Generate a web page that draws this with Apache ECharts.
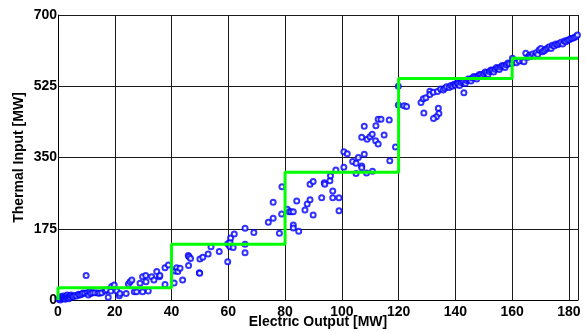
<!DOCTYPE html>
<html>
<head>
<meta charset="utf-8">
<script src="https://cdn.jsdelivr.net/npm/echarts@6/dist/echarts.min.js"></script>
<style>
  html, body { margin: 0; padding: 0; background: #fff; }
  #chart { width: 586px; height: 333px; }
</style>
</head>
<body>
<div id="chart"></div>
<script>
// Axis ticks
const xTicks = [0, 20, 40, 60, 80, 100, 120, 140, 160, 180];
const yTicks = [0, 175, 350, 525, 700];

// Piecewise-constant approximation: breakpoints (MW out) and levels (MW in)
const stepX = [0, 40, 80, 120, 160, 183.2];
const stepY = [30, 137, 314, 544, 594];

// Measured operating points [electric output MW, thermal input MW]
const measLow = [
  [0.3,2],[0.6,5],[0.8,0],[1.0,8],[1.2,3],[1.5,6],[1.8,10],[2.0,4],[2.2,7],[2.5,2],
  [2.8,9],[3.0,5],[3.2,12],[3.5,7],[3.8,3],[4.0,10],[4.3,6],[4.6,12],[5.0,9],[5.4,8],
  [6.0,11],[6.6,10],[7.2,14],[7.7,12],[8.3,14],[8.8,17],[9.5,16.5],[9.9,60],[10.3,18],
  [10.7,12],[11.2,20],[11.5,16],[12.2,18],[13,18],[14,17],[14.6,16.5],[15.4,18],
  [16.6,22],[17.1,25],[17.7,7],[18.6,22],[18.9,33],[19.8,37],[20.7,22],[21.6,10.5],
  [21.8,16],[24,16],[24.8,39],[25.4,45],[26,49],[26.9,20],[27.7,20],[28.9,41],
  [29.8,20],[29.8,57],[30.9,60],[31,45],[31.8,22],[33,57],[33.8,49],[34.8,70],
  [35.7,57],[35.9,60],[37.7,38],[37.7,79],[38.9,86]
];
const measMid = [
  [40.9,42],[41.2,71],[41.8,79],[42.2,70],[43,78],[43.9,49],[45.9,109],[46.2,106],
  [46.7,102],[46,85],[49.8,67],[49.9,66],[50,101],[51,105],[52.9,113],[53.9,131],
  [56.8,119],[59.8,94],[59.8,138],[60.3,135],[60.6,142],[60.6,131],[60.8,152],
  [61.7,129],[62.1,162],[65.9,176],[65.9,137],[65.9,116],[69,166],[74.1,191],
  [75.8,201],[75.8,240],[78,164],[78.8,211],[78.9,278],
  [80.8,223],[81.4,217],[82.1,217],[82.9,217],[82.9,184],[82.9,177],[84.1,243],
  [84.8,169],[87,221],[87.8,236],[88.8,246],[88.8,284],[89.9,291],[89.9,209],
  [92.9,251],[93.8,288],[94,284],[95.8,293],[96,305],[96.8,268],[96.8,251],
  [97.9,319],[99,251],[99,219],[100.7,364],[101.9,359],[100.7,326],[103.8,340],
  [105,336],[105.8,350],[107,329],[107,325],[107.9,358],[105,311],[108.7,312],
  [110.8,316],[107,400],[107.9,427],[108.9,395],[109.9,401],[110.7,407],[111.9,391],
  [112.8,383],[112,428],[112.8,444],[113.8,444],[114.9,405],[116.7,442],[116.9,342],
  [118.9,376],[119.9,479],[119.9,525]
];
const measHigh = [
  [121.9,477],[122.8,475],[127.9,485],[128.7,494],[129.6,497],[128.9,459],[131,513],
  [131,505],[132.2,510],[133.7,512],[134.8,518],[134,471],[134.2,458],[133.3,450],
  [132.3,446],[135.7,516],[136.3,520],[136.9,524],[143,509],
  [137.8,522],[138.4,527],[139,525],[139.6,530],[140,528],[140.6,533],[141,531],
  [141.5,527],[142,534],[142.5,538],[143,536],[143.5,532],[144,539],[144.5,543],
  [145,542],[145.5,538],[146,545],[146.5,549],[147,547],[147.5,543],[148,550],
  [148.5,554],[149,553],[149.5,549],[150,556],[150.5,560],[151,558],[151.5,554],
  [152,561],[152.5,565],[153,564],[153.5,560],[154,567],[154.5,571],[155,569],
  [155.5,566],[156,572],[156.5,576],[157,575],[157.5,571],[158,578],[158.5,582],
  [159,580],[159.9,581],[160.1,594],[160.4,589],
  [160.7,589],[161.5,583],[162.5,587],[163.7,587],[164.2,585],[164.8,606],[165.5,596],
  [166.1,601],[166.6,598],[167.2,604],[168,600],[168.4,607],[169,603],[169.5,614],
  [170.1,618],[170.7,610],[171.3,612],[171.9,616],[172.5,619],[173.1,622],[173.7,618],
  [174.2,626],[174.8,624],[175.4,629],[176,627],[176.6,630],[177.2,633],[177.8,629],
  [178.4,636],[178.9,634],[179.5,638],[180.1,639],[180.7,642],[181.3,643],[181.9,645],
  [182.5,647],[183,651]
];

// Build the stair-step polyline from breakpoints and levels
const stepLine = [[stepX[0], 0]];
for (let i = 0; i < stepY.length; i++) {
  stepLine.push([stepX[i], stepY[i]]);
  stepLine.push([stepX[i + 1], stepY[i]]);
}

const font = 'Liberation Sans, Arial, Helvetica, sans-serif';
const chart = echarts.init(document.getElementById('chart'), null, { renderer: 'canvas' });

chart.setOption({
  animation: false,
  backgroundColor: '#ffffff',
  grid: { left: 58, right: 8, top: 15, bottom: 33, containLabel: false, outerBoundsMode: 'none' },
  xAxis: {
    type: 'value',
    min: 0,
    max: 183.2,
    interval: 20,
    name: 'Electric Output [MW]',
    nameLocation: 'middle',
    nameGap: 15,
    nameMoveOverlap: false,
    nameTextStyle: { fontFamily: font, fontWeight: 'bold', fontSize: 14, color: '#000' },
    axisLine: { show: true, onZero: false, lineStyle: { color: '#000', width: 1 } },
    axisTick: { show: false },
    axisLabel: {
      fontFamily: font, fontWeight: 'bold', fontSize: 14, color: '#000', margin: 5,
      showMaxLabel: false,
      formatter: v => (xTicks.includes(v) ? String(v) : '')
    },
    splitLine: { show: true, lineStyle: { color: '#1a1a1a', width: 1 } }
  },
  yAxis: {
    type: 'value',
    min: 0,
    max: 700,
    interval: 175,
    name: 'Thermal Input [MW]',
    nameLocation: 'middle',
    nameGap: 32,
    nameMoveOverlap: false,
    nameTextStyle: { fontFamily: font, fontWeight: 'bold', fontSize: 14, color: '#000' },
    axisLine: { show: true, onZero: false, lineStyle: { color: '#000', width: 1 } },
    axisTick: { show: false },
    axisLabel: {
      fontFamily: font, fontWeight: 'bold', fontSize: 14, color: '#000', margin: 1,
      formatter: v => (yTicks.includes(v) ? String(v) : '')
    },
    splitLine: { show: true, lineStyle: { color: '#1a1a1a', width: 1 } }
  },
  series: [
    {
      type: 'scatter',
      data: measLow.concat(measMid, measHigh),
      symbol: 'emptyCircle',
      symbolSize: 5,
      itemStyle: { color: '#0000ff', borderColor: '#0000ff', borderWidth: 1 },
      z: 2
    },
    {
      type: 'line',
      data: stepLine,
      showSymbol: false,
      symbol: 'none',
      lineStyle: { color: '#00ff00', width: 3 },
      z: 3
    }
  ]
});
</script>
</body>
</html>
